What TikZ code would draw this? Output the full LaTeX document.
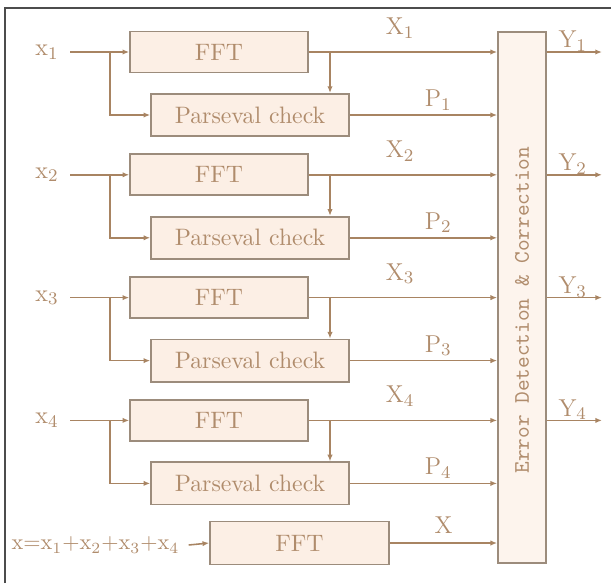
\documentclass[tikz,border=0pt]{standalone}
\usepackage{tikz}
\usetikzlibrary{positioning, calc, arrows.meta}

\definecolor{wire}{HTML}{A88462}
\definecolor{edge}{HTML}{9C8C7C}
\definecolor{boxfill}{HTML}{FCEFE5}
\definecolor{ink}{HTML}{B08C6C}

\begin{document}
\begin{tikzpicture}[
        x=0.45pt, y=-0.45pt,
        fftbox/.style={rectangle, draw=edge, fill=boxfill, line width=0.8pt, minimum width=80pt, minimum height=18.5pt, text=ink, font=\fontsize{10.7}{12}\selectfont},
        checkbox/.style={rectangle, draw=edge, fill=boxfill, line width=0.8pt, minimum width=89pt, minimum height=19pt, text=ink, font=\fontsize{10.7}{12}\selectfont},
        edbox/.style={rectangle, draw=edge, fill=boxfill!70!white, line width=0.8pt, minimum width=21.6pt, minimum height=239pt, inner sep=0pt},
        lbl/.style={text=ink, font=\fontsize{11}{12}\selectfont, inner sep=1pt},
        arrow/.style={-{Latex[length=3pt,width=2.4pt]}, wire, line width=0.7pt}
    ]
        \useasboundingbox (0,0) rectangle (611,583);
        % frame
        \draw[gray!60!black, line width=0.7pt] (5,583) -- (5,8) -- (611,8);

        % error detection block
        \node[edbox] (ed) at (522,297.5) {};
        \node[rotate=90, text=ink, font=\ttfamily] (edtext) at (522,310) {Error Detection \& Correction};

        % four channels
        \foreach \i in {1,...,4} {
            \pgfmathsetmacro{\yf}{52+122.8*(\i-1)}
            \pgfmathsetmacro{\yp}{\yf+63}
            \node[fftbox] (fft\i) at (219,\yf) {FFT};
            \node[checkbox] (par\i) at (250,\yp) {Parseval check};
            \node[lbl] (x\i) at (47,\yf) {x$_\i$};
            \coordinate (br\i) at (110,\yf);
            \coordinate (tap\i) at (330,\yf);
            \coordinate (out\i) at (602,\yf);

            \draw[arrow] (x\i.east) ++(4pt,0) -- (fft\i.west);
            \draw[arrow] (br\i) |- (par\i.west);
            \draw[arrow] (fft\i.east) -- (ed.west |- fft\i.east);
            \draw[arrow] (tap\i) -- (tap\i |- par\i.north);
            \draw[arrow] (par\i.east) -- (ed.west |- par\i.east);
            \draw[arrow] (ed.east |- fft\i.east) -- (out\i);

            \node[lbl, above=5pt of {$(tap\i)!0.42!(ed.west |- fft\i.east)$}] (xl\i) {X$_\i$};
            \node[lbl, above=1pt of {$(par\i.east)!0.6!(ed.west |- par\i.east)$}] (pl\i) {P$_\i$};
            \node[lbl, above=-1pt of {$(ed.east |- fft\i.east)!0.47!(out\i)$}] (yl\i) {Y$_\i$};
        }

        % sum channel
        \node[fftbox, minimum width=80.5pt, minimum height=19.4pt] (fftsum) at (299.5,543) {FFT};
        \node[lbl, anchor=west, font=\fontsize{10}{12}\selectfont] (xsum) at (9,545) {x=x$_1$+x$_2$+x$_3$+x$_4$};
        \draw[arrow] (xsum.east) ++(3pt,0) -- (fftsum.west);
        \draw[arrow] (fftsum.east) -- (ed.west |- fftsum.east);
        \node[lbl, above=3pt of {$(fftsum.east)!0.5!(ed.west |- fftsum.east)$}] (xsuml) {X};
    \end{tikzpicture}
\end{document}
